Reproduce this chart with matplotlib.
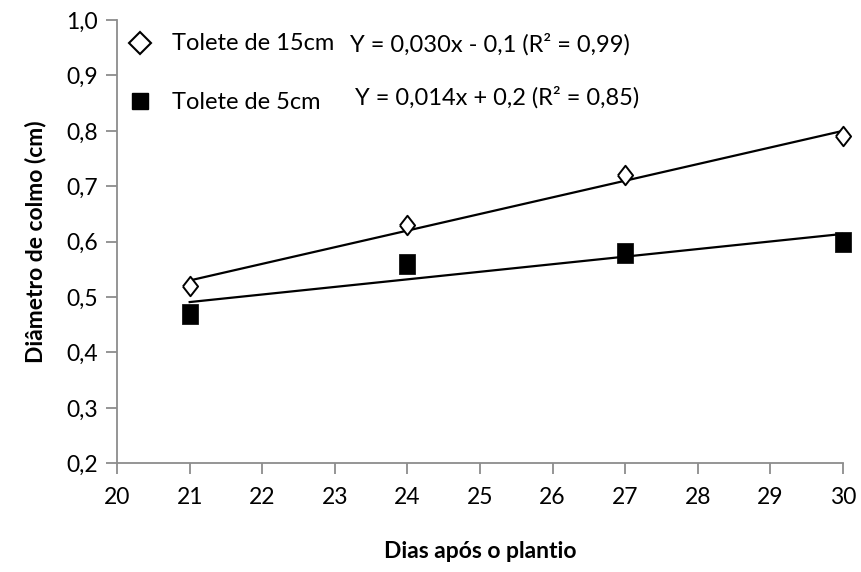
import numpy as np
import matplotlib.pyplot as plt
from matplotlib.ticker import FuncFormatter, MultipleLocator

plt.rcParams["font.family"] = ["Lato", "DejaVu Sans"]

# dias apos o plantio e diametro medio do colmo (cm)
dias = np.array([21, 24, 27, 30])
diam_15cm = np.array([0.52, 0.63, 0.72, 0.79])
diam_5cm = np.array([0.47, 0.56, 0.58, 0.60])

lbl_15 = "Tolete de 15cm"
lbl_5 = "Tolete de 5cm"
eq_15 = "Y = 0,030x - 0,1 (R² = 0,99)"
eq_5 = "Y = 0,014x + 0,2 (R² = 0,85)"

# marcadores um pouco mais altos do que largos
losango = [(-0.39, 0), (0, 0.5), (0.39, 0), (0, -0.5), (-0.39, 0)]
retang = [(-0.39, -0.5), (0.39, -0.5), (0.39, 0.5), (-0.39, 0.5), (-0.39, -0.5)]

fig = plt.figure(figsize=(8.61, 5.72), dpi=100)
ax = fig.add_axes([0.136, 0.19, 0.843, 0.775])

# retas ajustadas
for y in (diam_15cm, diam_5cm):
    a, b = np.polyfit(dias, y, 1)
    xx = np.array([dias[0], dias[-1]])
    ax.plot(xx, a * xx + b, color="black", lw=1.6, zorder=2)

ax.plot(dias, diam_15cm, linestyle="none", marker=losango, ms=14, mfc="white",
        mec="black", mew=1.4, zorder=3, clip_on=False)
ax.plot(dias, diam_5cm, linestyle="none", marker=retang, ms=14, mfc="black",
        mec="black", mew=0.5, zorder=3, clip_on=False)

ax.set_xlim(20, 30)
ax.set_ylim(0.2, 1.0)
ax.xaxis.set_major_locator(MultipleLocator(1))
ax.yaxis.set_major_locator(MultipleLocator(0.1))
ax.yaxis.set_major_formatter(FuncFormatter(lambda v, p: f"{v:.1f}".replace(".", ",")))
ax.xaxis.set_major_formatter(FuncFormatter(lambda v, p: f"{v:.0f}"))

for s in ("top", "right"):
    ax.spines[s].set_visible(False)
for s in ("left", "bottom"):
    ax.spines[s].set_color("#8c8c8c")
    ax.spines[s].set_linewidth(1.3)
ax.tick_params(direction="out", length=8, width=1.3, color="#8c8c8c",
               labelsize=16.5, pad=6)
ax.tick_params(axis="x", pad=9)

ax.set_xlabel("Dias após o plantio", fontsize=16.5, fontweight="bold", labelpad=24)
ax.set_ylabel("Diâmetro de colmo (cm)", fontsize=16.5, fontweight="bold", labelpad=14)

# legenda com as equações ao lado
ax.plot([0.0317], [0.948], transform=ax.transAxes, marker="D", ms=11.5, mfc="white",
        mec="black", mew=1.5, clip_on=False)
ax.plot([0.0317], [0.817], transform=ax.transAxes, marker="s", ms=12.2, mfc="black",
        mec="black", clip_on=False)
ax.text(0.0758, 0.948, lbl_15, transform=ax.transAxes, fontsize=17, va="center")
ax.text(0.0758, 0.815, lbl_5, transform=ax.transAxes, fontsize=17, va="center")
ax.text(0.321, 0.944, eq_15, transform=ax.transAxes, fontsize=17, va="center")
ax.text(0.328, 0.826, eq_5, transform=ax.transAxes, fontsize=17, va="center")

fig.savefig("out.png", dpi=100)
